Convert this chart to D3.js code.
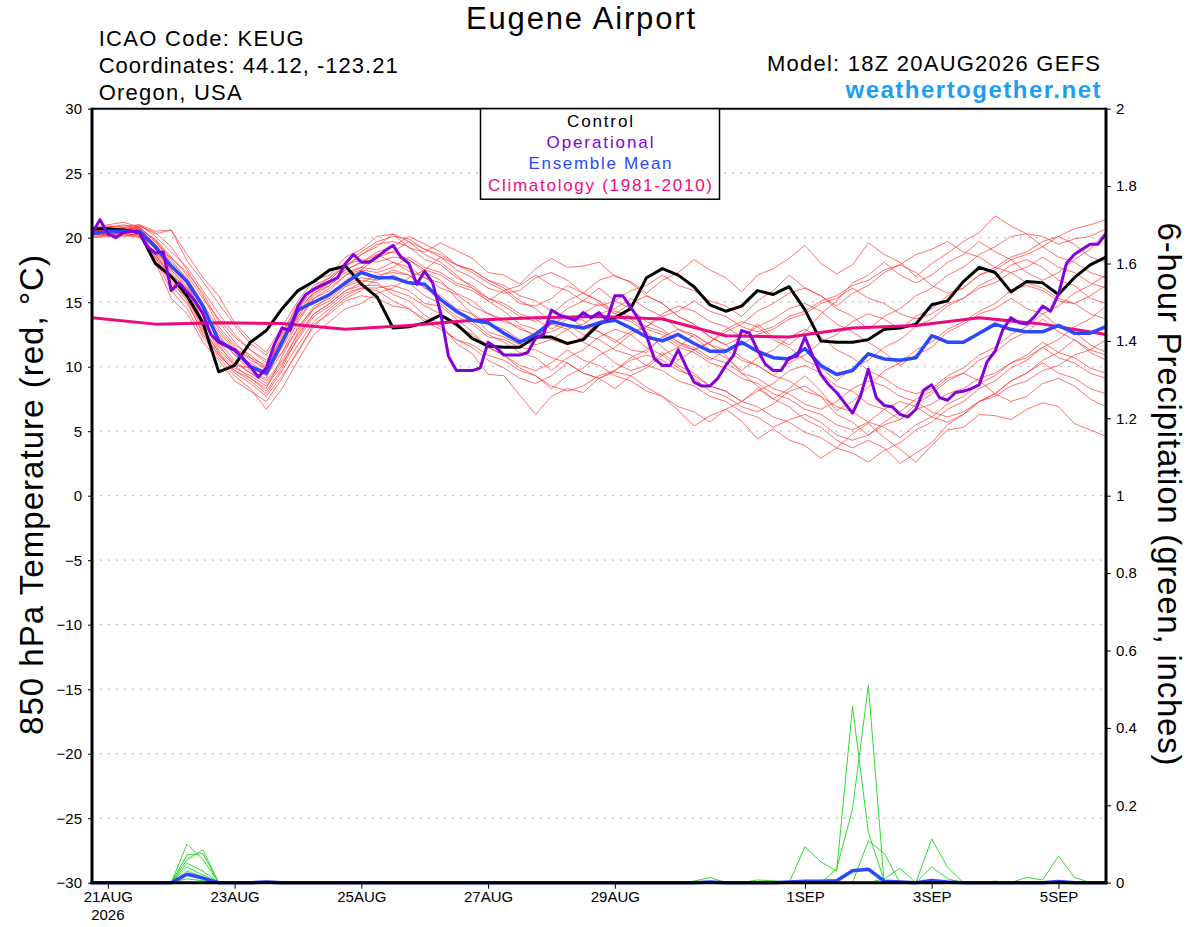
<!DOCTYPE html>
<html lang="en">
<head>
<meta charset="UTF-8">
<title>Eugene Airport</title>
<style>
  body { margin: 0; background: #fff; }
  text { font-family: "Liberation Sans", Arial, sans-serif; }
</style>
</head>
<body>
<script src="https://cdn.jsdelivr.net/npm/d3@7"></script>
<script>
// ---- data (6-hourly from 20AUG2026 18Z unless noted) ----
const startTime = Date.UTC(2026, 7, 20, 18)
const endTime = Date.UTC(2026, 8, 5, 18)

const controlT = [20.7,20.7,20.6,20.4,18.0,17.0,15.5,13.4,9.6,10.1,11.9,12.8,14.5,15.9,16.6,17.5,17.8,16.4,15.4,13.0,13.1,13.4,
  14.0,13.3,12.2,11.6,11.5,11.5,12.3,12.3,11.8,12.1,13.3,13.8,14.5,16.9,17.6,17.1,16.2,14.8,14.3,14.7,15.9,15.6,
  16.2,14.4,12.0,11.9,11.9,12.1,12.9,13.0,13.3,14.8,15.1,16.6,17.7,17.3,15.8,16.6,16.5,15.6,16.9,17.9,18.5]

const meanT = [20.3,20.5,20.5,20.5,19.3,17.8,16.6,14.7,12.0,11.3,10.0,9.5,11.9,14.4,15.0,15.6,16.5,17.3,16.9,16.9,16.5,16.4,
  15.2,14.3,13.6,13.4,12.6,11.9,12.5,13.5,13.2,13.0,13.4,13.6,13.0,12.3,12.0,12.5,11.8,11.2,11.2,11.9,11.2,10.7,
  10.6,11.4,10.1,9.4,9.7,11.0,10.6,10.5,10.7,12.4,11.9,11.9,12.6,13.3,12.9,12.7,12.7,13.2,12.6,12.6,13.1]

// operational run, 3-hourly
const operT = [20.3,21.4,20.3,20.0,20.4,20.5,20.4,19.3,18.8,18.9,15.9,16.5,15.8,15.1,14.1,12.5,11.9,11.6,11.3,10.7,
  10.0,9.2,9.9,11.7,13.0,12.8,14.7,15.6,16.0,16.3,16.6,16.9,18.0,18.7,18.1,18.1,18.5,19.0,19.4,18.5,
  18.0,16.4,17.4,16.5,14.2,10.8,9.7,9.7,9.7,9.9,11.9,11.5,10.9,10.9,10.9,11.1,12.2,12.5,14.4,14.0,
  13.8,13.6,14.2,13.8,14.2,13.6,15.5,15.5,14.6,13.7,12.4,10.6,10.1,10.1,11.3,10.0,8.8,8.5,8.5,9.1,
  10.1,10.9,12.8,12.6,11.3,10.2,9.7,9.7,10.7,10.8,12.3,10.8,9.4,8.6,8.0,7.2,6.4,7.7,9.8,7.6,
  7.0,6.9,6.3,6.1,6.7,8.2,8.6,7.6,7.4,8.0,8.1,8.3,8.6,10.4,11.2,12.9,13.8,13.4,13.3,13.9,
  14.7,14.3,15.6,18.0,18.7,19.1,19.5,19.5,20.3]

// climatology, daily at 18Z
const climT = [13.8,13.3,13.4,13.35,12.9,13.2,13.6,13.8,13.9,13.7,12.4,12.3,13.0,13.2,13.8,13.3,12.5]

const membersT = [
  [20.6,20.8,20.9,21.0,20.5,20.6,18.2,16.6,14.9,13.2,11.8,10.9,12.6,14.9,16.1,16.9,17.8,18.7,19.3,20.3,19.2,18.9,19.6,19.0,18.4,17.3,17.1,16.4,17.6,18.4,17.7,17.8,18.1,17.0,16.6,15.7,16.7,17.3,18.3,17.5,16.9,15.8,17.1,17.6,18.4,19.4,18.0,17.2,17.9,19.6,18.7,18.1,17.0,18.0,18.8,19.7,20.4,21.7,20.9,20.3,19.3,20.1,20.7,21.0,21.4],
  [20.4,20.6,20.7,20.3,19.1,17.1,16.1,13.6,11.7,10.1,9.1,8.3,10.8,13.1,14.5,15.1,16.2,16.7,16.5,15.6,15.1,14.0,13.3,11.8,11.0,9.4,9.3,7.8,6.3,7.7,8.3,8.0,9.1,9.6,9.3,8.4,7.7,6.6,5.4,6.2,6.7,5.8,4.4,5.2,4.3,3.9,2.9,3.7,4.8,5.6,4.5,3.6,2.6,3.9,5.1,5.3,6.3,6.2,5.9,6.7,7.2,6.9,5.6,5.1,4.6],
  [20.2,20.3,20.6,20.8,19.8,18.4,17.3,15.7,13.5,11.9,10.7,9.7,12.3,14.5,15.7,16.3,17.3,17.7,17.5,18.1,17.4,16.9,16.1,15.6,14.7,14.1,13.5,13.1,12.3,13.3,13.9,13.6,12.7,12.1,11.3,11.1,12.3,12.9,12.5,11.7,10.9,9.5,8.5,7.5,8.3,9.3,8.1,6.6,7.3,8.4,9.7,10.3,11.3,11.9,12.9,13.5,14.3,14.9,15.9,16.3,15.9,15.1,14.9,15.5,16.3],
  [20.0,20.2,20.4,20.1,18.3,15.9,14.5,12.3,10.7,9.3,8.3,6.7,8.3,10.5,12.5,13.5,14.5,14.9,15.7,16.1,16.9,17.5,18.5,17.9,17.3,16.5,15.9,14.9,14.7,15.3,16.3,15.7,15.1,14.3,13.9,13.1,14.1,14.7,14.3,13.5,13.1,12.3,13.1,13.7,14.5,14.9,14.3,13.3,12.7,11.9,11.1,10.1,10.9,11.5,12.7,13.3,14.1,14.5,15.3,14.5,14.1,13.1,12.7,11.7,11.1],
  [20.5,20.7,20.6,20.9,20.3,20.6,18.7,16.9,15.5,13.4,12.1,11.1,13.1,15.1,16.7,17.1,18.5,19.1,20.1,20.3,19.7,18.7,18.1,17.1,16.1,15.1,14.3,13.3,12.9,12.1,11.7,12.3,13.5,13.9,13.5,12.7,11.5,10.5,11.3,11.9,12.7,13.3,14.3,14.9,15.7,16.1,15.5,14.7,15.7,16.3,17.3,17.9,17.3,16.3,15.7,16.1,17.1,17.7,18.5,18.9,19.7,20.1,19.5,18.5,18.1],
  [20.3,20.4,20.2,20.0,18.9,16.9,15.5,13.1,11.1,9.9,9.3,8.5,10.1,12.7,14.5,15.5,16.7,17.5,18.5,18.9,18.3,17.3,16.7,15.3,14.1,12.7,12.3,11.7,12.7,13.3,12.9,11.9,11.3,10.3,9.7,10.1,11.1,10.1,9.5,8.5,8.1,7.3,8.1,8.7,9.7,10.1,9.5,8.5,8.1,7.1,6.7,5.9,7.1,7.9,8.9,9.5,10.5,11.1,12.1,12.7,13.7,12.7,12.1,11.1,10.5],
  [20.8,21.0,21.2,20.8,19.7,18.1,16.9,14.9,12.9,11.5,10.5,9.9,11.1,13.5,15.3,16.1,17.1,17.7,18.7,18.9,19.7,19.1,18.5,17.5,16.9,16.1,15.7,15.9,16.9,17.3,16.7,15.7,15.1,14.1,14.9,15.5,14.9,13.9,13.3,12.3,11.7,12.3,13.3,12.3,11.7,12.7,14.1,15.1,16.5,17.1,18.1,17.1,16.5,17.1,18.1,18.7,19.7,18.9,18.3,17.3,16.7,17.3,18.3,19.1,20.5],
  [20.1,20.2,20.4,20.6,19.1,17.5,16.3,14.1,12.5,10.9,9.7,8.9,10.5,12.5,14.1,14.9,15.9,16.5,17.1,17.3,17.1,16.1,15.3,14.3,13.5,12.5,11.9,11.1,10.7,9.7,10.7,11.3,12.3,12.9,12.5,11.5,10.9,9.9,9.1,8.1,7.7,6.9,6.5,7.1,8.1,8.5,7.7,6.3,5.7,4.7,5.7,6.5,7.5,8.1,9.1,9.5,8.9,7.9,7.3,7.7,8.7,9.1,8.5,7.5,6.9],
  [20.6,20.5,20.3,20.7,19.5,17.9,16.5,13.9,11.5,10.3,9.5,9.1,11.7,14.1,15.9,16.5,17.5,18.1,18.9,19.3,20.1,19.5,18.9,17.9,17.5,16.7,16.1,15.1,14.5,13.5,14.5,15.1,16.1,15.1,14.5,13.5,12.9,11.9,11.3,11.9,12.9,13.5,13.1,12.1,11.5,10.5,9.9,8.9,9.9,10.5,11.5,12.1,13.1,13.7,14.7,15.3,16.3,16.9,17.9,18.3,17.7,16.7,16.3,15.3,14.9],
  [20.4,20.3,20.5,20.3,18.7,16.7,15.1,12.5,10.9,9.7,8.9,7.9,9.7,11.7,13.5,14.5,15.5,16.1,16.1,16.3,15.9,14.9,14.7,13.7,12.7,11.5,10.9,10.1,9.7,10.3,11.3,10.5,10.1,9.3,8.9,8.1,7.7,6.9,6.5,5.7,6.7,7.3,8.3,7.5,6.9,5.9,5.3,4.3,3.7,4.3,3.7,2.5,3.3,4.1,5.5,6.3,7.3,7.9,8.9,9.5,10.3,9.5,9.1,8.3,7.9],
  [20.2,20.6,20.8,21.0,20.1,18.9,17.7,15.9,14.1,12.5,11.3,10.3,11.9,13.9,15.5,16.3,17.7,18.7,19.5,19.7,19.3,18.3,17.9,16.9,16.3,15.3,14.7,13.9,13.5,14.1,15.1,15.7,16.7,17.1,16.5,15.5,14.9,13.9,13.3,12.3,11.7,10.7,10.1,9.3,10.3,10.9,11.9,12.5,13.5,14.1,13.7,12.9,13.9,14.5,15.5,16.1,17.1,17.5,18.3,18.7,19.3,18.5,18.1,17.3,16.9],
  [20.5,20.4,20.6,20.4,19.3,17.3,15.9,13.5,11.3,10.1,9.9,9.3,11.1,12.9,14.7,15.3,16.3,16.9,16.7,17.1,16.5,15.5,14.9,13.9,13.3,12.3,12.1,11.5,11.3,10.7,10.3,9.5,9.1,9.7,10.7,11.3,12.3,11.5,11.1,10.3,9.9,9.1,8.7,7.9,7.5,6.7,6.3,5.5,5.1,5.7,6.7,7.3,6.9,6.1,5.7,6.3,7.3,7.9,8.9,9.5,10.5,11.1,12.1,11.3,10.9],
  [20.0,20.1,20.3,20.2,18.1,15.3,14.1,11.9,10.5,8.9,8.1,7.3,9.1,11.3,13.1,14.3,15.3,15.9,16.9,17.5,17.1,16.1,15.5,14.5,14.1,13.3,12.9,12.1,11.7,12.1,12.9,13.3,14.1,14.5,15.3,14.5,13.9,12.9,12.3,11.3,10.7,9.7,10.7,11.3,12.3,12.9,12.3,11.3,10.7,9.7,9.1,8.3,7.9,8.3,9.3,9.9,10.9,11.5,12.5,13.1,14.1,14.7,15.7,16.3,17.1],
  [20.7,20.9,20.8,20.6,19.9,18.5,17.1,15.3,13.7,12.3,11.3,10.5,12.1,14.5,16.1,16.7,17.9,18.3,18.1,18.5,18.3,17.5,17.1,16.3,15.9,15.1,15.9,16.3,17.1,16.3,15.9,15.1,14.7,15.1,15.9,16.3,17.1,16.3,15.9,15.1,14.7,13.9,15.1,15.9,17.1,16.1,15.5,14.5,13.9,12.9,13.9,14.5,15.5,16.1,17.1,17.7,18.7,19.3,20.1,20.3,20.1,19.5,19.9,20.1,20.7],
  [20.3,20.2,20.4,20.5,18.7,16.9,15.3,12.9,11.1,9.5,8.7,7.7,9.3,11.1,13.3,14.1,15.1,15.5,15.3,14.7,14.5,13.7,13.1,12.1,11.5,10.5,9.9,9.1,8.7,9.3,10.3,9.5,9.1,8.3,9.3,9.9,10.9,11.5,12.5,11.7,11.3,10.5,10.1,9.3,8.9,8.1,7.7,6.9,6.5,5.7,5.3,4.5,5.5,6.1,7.1,7.7,8.7,9.3,10.3,10.9,11.9,11.1,10.7,9.9,9.5],
  [20.6,20.7,20.5,20.8,19.7,18.3,16.7,14.5,12.3,10.9,10.3,9.5,11.5,13.7,15.3,15.9,17.1,17.5,17.3,17.7,18.5,17.7,17.3,16.5,16.1,15.3,14.9,14.1,13.7,12.9,13.7,14.1,14.9,14.1,13.7,12.9,12.5,11.7,11.3,10.5,11.3,11.7,12.5,12.9,13.7,14.1,14.9,15.3,16.1,15.3,14.9,14.1,13.7,14.1,14.9,15.3,16.1,16.5,17.3,17.7,18.5,17.7,17.3,16.5,16.1],
  [20.2,20.3,20.1,20.3,18.5,16.3,14.9,12.7,10.9,9.7,9.1,8.1,9.9,12.3,14.1,14.9,15.9,16.3,16.3,15.9,15.5,14.7,14.1,13.1,12.5,11.5,10.9,9.9,9.3,8.3,9.3,9.9,10.9,11.5,12.5,13.1,12.7,11.9,11.5,10.7,10.3,9.5,9.1,8.3,7.9,7.1,6.7,7.3,8.3,8.9,8.5,7.7,7.3,6.5,6.1,6.5,7.3,7.7,8.5,8.9,9.7,10.1,10.9,11.3,12.1],
  [20.4,20.8,21.0,20.7,19.5,17.5,16.1,14.3,12.7,11.3,10.7,10.1,11.9,13.9,15.7,16.5,17.5,18.1,18.7,18.1,17.7,16.9,16.5,15.7,15.1,14.1,13.7,12.9,12.5,12.7,13.3,12.5,12.1,11.3,10.9,10.1,9.7,8.9,8.5,7.7,7.3,6.5,6.1,5.3,5.9,6.3,5.7,4.7,4.3,4.7,5.5,5.9,6.7,7.1,7.9,8.3,9.1,9.5,10.3,10.7,11.5,10.7,10.3,9.5,9.1],
  [20.5,20.6,20.7,20.9,20.4,19.3,17.5,15.5,13.1,11.7,10.9,9.9,12.5,14.7,16.3,16.9,18.1,18.9,19.7,20.1,19.9,19.1,18.7,17.9,17.5,16.7,16.3,15.5,15.1,14.3,13.9,13.1,12.7,11.9,12.7,13.1,13.9,14.3,15.1,14.3,13.9,13.1,12.7,13.1,13.9,14.3,15.1,15.5,16.3,16.7,17.5,17.9,18.7,19.1,19.7,18.9,18.5,17.7,17.3,16.5,16.1,15.3,14.9,14.1,13.7],
  [20.3,20.5,20.3,20.1,18.5,16.5,15.3,13.3,11.9,10.5,9.5,8.7,10.3,12.1,13.9,14.7,15.7,16.1,15.9,15.1,14.5,13.5,12.9,12.1,11.7,10.9,10.5,9.7,9.3,8.5,8.1,8.5,9.3,9.7,10.5,10.9,10.5,9.7,9.3,8.5,8.1,7.3,6.9,6.1,5.7,4.9,4.5,3.7,3.3,2.6,3.5,4.1,5.1,5.7,6.7,7.3,8.3,8.9,9.9,10.5,11.5,12.1,13.1,13.7,14.7]
]

// 6-hour precipitation (inches)
const membersP = [
  [0,0,0,0,0,0,.10,.06,0,0,0,0,0, 0,0,0,0,0,0,0,0,0,0,0,0,0, 0,0,0,0,0,0,0,0,0,0,0,0,0,
   0,0,0,0,0,0,.093,.054,.03,.455,.13,.005,0, 0,0,0,0,0,0,0,0,0,0,0,0,0],
  [0,0,0,0,0,0,.06,.085,0,0,0,0,0, 0,0,0,0,0,0,0,0,0,0,0,0,0, 0,0,0,0,0,0,0,0,0,0,0,0,0,
   0,0,0,0,0,0,0,0,.036,.19,.51,0,0, 0,0,0,0,0,0,0,0,0,0,0,0,0],
  [0,0,0,0,0,0,.072,.075,0,0,0,0,0, 0,0,0,0,0,0,0,0,0,0,0,0,0, 0,0,0,0,0,0,0,0,0,0,0,0,0,
   0,0,0,0,0,0,0,0,0,0,.108,.076,0, 0,.113,.04,0,0,0,0,0,0,0,0,0,0],
  [0,0,0,0,0,0,.05,.03,0,0,0,0,0, 0,0,0,0,0,0,0,0,0,0,0,0,0, 0,0,0,0,0,0,0,0,0,0,0,0,0,
   0,0,0,0,0,0,0,0,0,0,0,.01,.037, 0,.041,.01,0,0,0,0,0,0,0,0,0,0],
  [0,0,0,0,0,0,.04,.02,0,0,0,0,0, 0,0,0,0,0,0,0,0,0,0,0,0,0, 0,0,0,0,0,0,0,0,0,0,0,0,0,
   0,0,0,0,0,0,0,0,0,0,0,0,0, 0,0,0,0,0,0,0,.014,.007,.069,.014,0,0],
  [0,0,0,0,0,0,.03,.015,0,0,0,0,0, 0,0,0,0,0,0,0,0,0,0,0,0,0, 0,0,0,0,0,0,0,0,0,0,0,0,.004,
   .014,0,0,0,0,0,0,0,0,0,0,0,0, 0,0,0,0,0,0,0,0,0,0,0,0,0],
  [0,0,0,0,0,0,.02,.01,0,0,0,0,0, 0,0,0,0,0,0,0,0,0,0,0,0,0, 0,0,0,0,0,0,0,0,0,0,0,0,0,
   0,0,0,.007,.005,0,0,0,0,0,0,0,0, 0,0,0,0,0,.004,0,0,0,0,0,0,0],
  [0,0,0,0,0,0,.01,.005,0,0,0,.004,.003, 0,0,0,0,0,0,0,0,0,0,0,0,.002,0, 0,0,0,0,0,0,0,0,0,0,0,0,
   0,0,0,0,0,0,0,0,0,0,0,0,0, 0,0,0,0,0,0,0,0,0,0,0,0,0]
]
const meanP = [0,0,0,0,0,0,.022,.012,0,0,0,.002,0, 0,0,0,0,0,0,0,0,0,0,0,0,0, 0,0,0,0,0,0,0,0,0,0,0,0,0,
  .002,0,0,0,0,.002,.004,.004,.005,.031,.035,.004,.002, 0,.006,.002,0,0,0,0,0,0,.003,0,0,0]

const tempTicks = [-30,-25,-20,-15,-10,-5,0,5,10,15,20,25,30]
const precipTicks = [0,0.2,0.4,0.6,0.8,1,1.2,1.4,1.6,1.8,2]
const dateTicks = [[2026,7,21],[2026,7,23],[2026,7,25],[2026,7,27],[2026,7,29],[2026,8,1],[2026,8,3],[2026,8,5]]
const dateLabels = ["21AUG","23AUG","25AUG","27AUG","29AUG","1SEP","3SEP","5SEP"]

const legendItems = [
  {label: "Control", color: "#000000", w: 66},
  {label: "Operational", color: "#8400dc", w: 107},
  {label: "Ensemble Mean", color: "#2b48ff", w: 143},
  {label: "Climatology (1981-2010)", color: "#ec0b7f", w: 224}
]

// ---- layout ----
const W = 1200, H = 927
const mLeft = 92, mRight = 1106, mTop = 108.7, mBottom = 882.7
const HOUR = 3600 * 1000

const svg = d3.select("body").append("svg")
  .attr("width", W).attr("height", H)
  .style("background", "#fff")

const x = d3.scaleUtc().domain([startTime, endTime]).range([mLeft, mRight])
const yT = d3.scaleLinear().domain([-30, 30]).range([mBottom, mTop])
const yP = d3.scaleLinear().domain([0, 2]).range([mBottom, mTop])

const t6 = i => startTime + i * 6 * HOUR
const t3 = i => startTime + i * 3 * HOUR
const t24 = i => startTime + i * 24 * HOUR

// gridlines
svg.append("g").selectAll("line")
  .data(tempTicks.filter(d => d > -30 && d < 30))
  .enter().append("line")
  .attr("x1", mLeft).attr("x2", mRight)
  .attr("y1", d => yT(d)).attr("y2", d => yT(d))
  .attr("stroke", "#a8a8a8").attr("stroke-width", 1.2)
  .attr("stroke-dasharray", "1.5,6.5")

const lineT = tf => d3.line().x((d, i) => x(tf(i))).y(d => yT(d))
const lineP = d3.line().x((d, i) => x(t6(i))).y(d => yP(d))

const plot = svg.append("g")

plot.selectAll(".mem").data(membersT).enter().append("path")
  .attr("d", lineT(t6)).attr("fill", "none")
  .attr("stroke", "#ff3030").attr("stroke-opacity", 0.85).attr("stroke-width", 0.8)

plot.selectAll(".pm").data(membersP).enter().append("path")
  .attr("d", lineP).attr("fill", "none")
  .attr("stroke", "#2fdc2f").attr("stroke-width", 1)

plot.append("path").datum(meanP).attr("d", lineP).attr("fill", "none")
  .attr("stroke", "#2b48ff").attr("stroke-width", 3.5).attr("stroke-linejoin", "round")

plot.append("path").datum(controlT).attr("d", lineT(t6)).attr("fill", "none")
  .attr("stroke", "#000").attr("stroke-width", 3).attr("stroke-linejoin", "round")

plot.append("path").datum(climT).attr("d", lineT(t24)).attr("fill", "none")
  .attr("stroke", "#ec0b7f").attr("stroke-width", 3).attr("stroke-linejoin", "round")

plot.append("path").datum(meanT).attr("d", lineT(t6)).attr("fill", "none")
  .attr("stroke", "#2b48ff").attr("stroke-width", 3.5).attr("stroke-linejoin", "round")

plot.append("path").datum(operT).attr("d", lineT(t3)).attr("fill", "none")
  .attr("stroke", "#8400dc").attr("stroke-width", 3).attr("stroke-linejoin", "round")

// axes
const fmtP = d => String(+d.toFixed(1))
const gl = svg.append("g").attr("transform", `translate(${mLeft},0)`)
  .call(d3.axisLeft(yT).tickValues(tempTicks).tickSize(4).tickPadding(6).tickSizeOuter(0))
const gr = svg.append("g").attr("transform", `translate(${mRight},0)`)
  .call(d3.axisRight(yP).tickValues(precipTicks).tickFormat(fmtP).tickSize(5).tickPadding(5).tickSizeOuter(0))
const gb = svg.append("g").attr("transform", `translate(0,${mBottom})`)
  .call(d3.axisBottom(x).tickValues(dateTicks.map(d => Date.UTC(d[0], d[1], d[2])))
    .tickFormat((d, i) => dateLabels[i]).tickSize(6).tickPadding(3).tickSizeOuter(0))

;[gl, gr, gb].forEach(g => {
  g.select(".domain").remove()
  g.selectAll("text").attr("font-size", 15).attr("fill", "#000")
    .style("font-family", "'Liberation Sans', Arial, sans-serif")
  g.selectAll("line").attr("stroke", "#000").attr("stroke-width", 1)
})

svg.append("text").attr("x", x(Date.UTC(2026, 7, 21))).attr("y", 920)
  .attr("text-anchor", "middle").attr("font-size", 15).text("2026")

// frame
svg.append("line").attr("x1", mLeft).attr("x2", mRight).attr("y1", mTop).attr("y2", mTop)
  .attr("stroke", "#000").attr("stroke-width", 2)
svg.append("line").attr("x1", mLeft - 1.5).attr("x2", mRight + 1.5).attr("y1", mBottom).attr("y2", mBottom)
  .attr("stroke", "#000").attr("stroke-width", 3)
svg.append("line").attr("x1", mLeft).attr("x2", mLeft).attr("y1", mTop - 1).attr("y2", mBottom + 1.5)
  .attr("stroke", "#000").attr("stroke-width", 3)
svg.append("line").attr("x1", mRight).attr("x2", mRight).attr("y1", mTop - 1).attr("y2", mBottom + 1.5)
  .attr("stroke", "#000").attr("stroke-width", 3)

// legend
const lg = svg.append("g")
lg.append("rect").attr("x", 480.5).attr("y", mTop).attr("width", 239).attr("height", 90.5)
  .attr("fill", "#fff").attr("stroke", "#000").attr("stroke-width", 1.5)
lg.selectAll("text").data(legendItems).enter().append("text")
  .attr("x", 600).attr("y", (d, i) => 126.7 + i * 21.3)
  .attr("text-anchor", "middle").attr("font-size", 17)
  .attr("textLength", d => d.w).attr("lengthAdjust", "spacing")
  .attr("fill", d => d.color).text(d => d.label)

// header texts
const hdr = (t, xx, yy, size, len, anchor) => svg.append("text")
  .attr("x", xx).attr("y", yy)
  .attr("font-size", size).attr("text-anchor", anchor)
  .attr("textLength", len).attr("lengthAdjust", "spacing").text(t)

hdr("Eugene Airport", 580.5, 29, 31, 229, "middle")
hdr("ICAO Code: KEUG", 98.7, 46, 22, 205, "start")
hdr("Coordinates: 44.12, -123.21", 98.7, 73, 22, 299, "start")
hdr("Oregon, USA", 98.7, 99.5, 22, 143, "start")
hdr("Model: 18Z 20AUG2026 GEFS", 1100, 70.5, 22, 333, "end")
hdr("weathertogether.net", 1100.5, 97.5, 24, 255, "end")
  .attr("font-weight", "bold").attr("fill", "#1d9ef5")

// axis titles
svg.append("text").attr("transform", "translate(43,495) rotate(-90)")
  .attr("text-anchor", "middle").attr("font-size", 33)
  .attr("textLength", 480).attr("lengthAdjust", "spacing")
  .text("850 hPa Temperature (red, °C)")
svg.append("text").attr("transform", "translate(1158,494) rotate(90)")
  .attr("text-anchor", "middle").attr("font-size", 33)
  .attr("textLength", 543).attr("lengthAdjust", "spacing")
  .text("6-hour Precipitation (green, inches)")
</script>
</body>
</html>
